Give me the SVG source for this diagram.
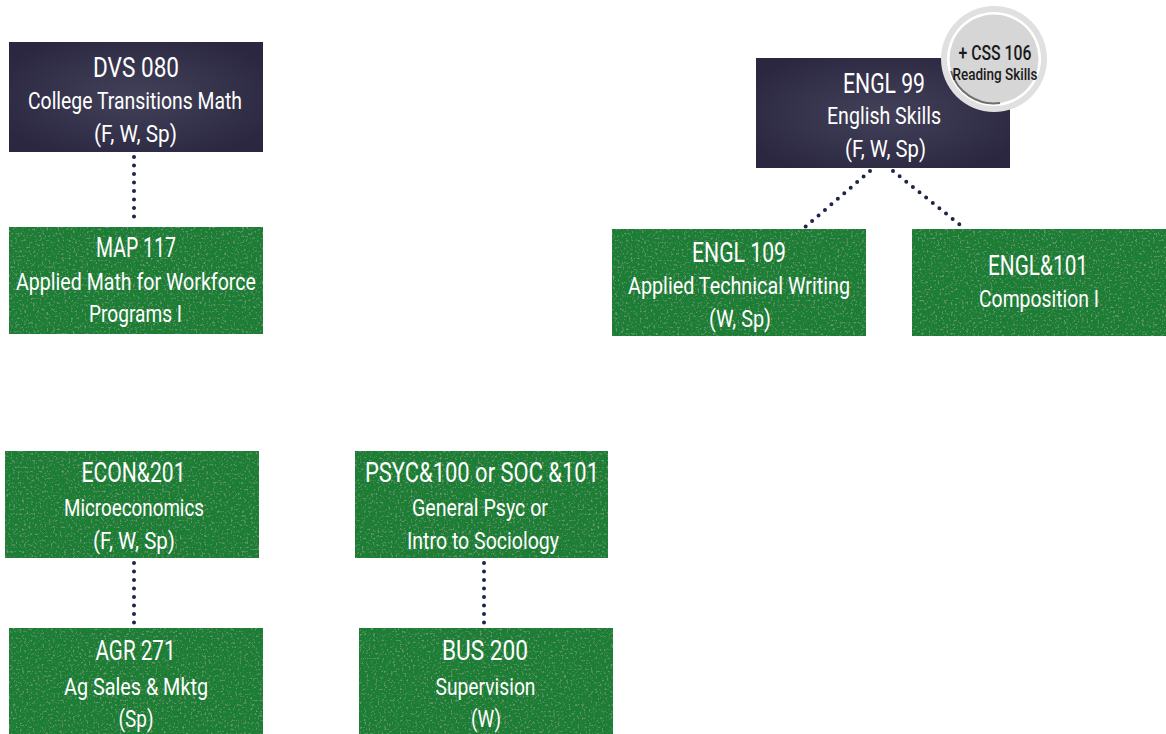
<svg xmlns="http://www.w3.org/2000/svg" width="1166" height="734" viewBox="0 0 1166 734">
<defs>
<style>
.t{font-family:Roboto,"Liberation Sans",sans-serif;fill:#ffffff;text-anchor:middle}
.h{font-size:28px}
.s{font-size:24.5px}
.dark{fill:url(#gDark)}
.green{fill:#1b7d36}
.conn{stroke:#1c2448;stroke-width:4;stroke-linecap:round;stroke-dasharray:0 8.5;fill:none}
.c1{font-family:Roboto,"Liberation Sans",sans-serif;font-weight:500;fill:#1a1a1a;text-anchor:middle}
</style>
<radialGradient id="gDark" cx="50%" cy="50%" r="60%">
<stop offset="0" stop-color="#43415a"/>
<stop offset="1" stop-color="#2b2740"/>
</radialGradient>
<filter id="speck" x="0" y="0" width="1" height="1">
<feTurbulence type="fractalNoise" baseFrequency="0.45" numOctaves="3" seed="7" result="n"/>
<feColorMatrix in="n" type="matrix" values="0 0 0 0 1  0 0 0 0 1  0 0 0 0 1  0 0 0 5 -2.9" result="w"/>
<feComposite in="w" in2="SourceGraphic" operator="in" result="wc"/>
<feComponentTransfer in="wc" result="wd"><feFuncA type="linear" slope="0.13"/></feComponentTransfer>
<feMerge><feMergeNode in="SourceGraphic"/><feMergeNode in="wd"/></feMerge>
</filter>
</defs>
<rect width="1166" height="734" fill="#ffffff"/>

<g id="connectors">
<line class="conn" x1="134" y1="157" x2="134" y2="225"/>
<line class="conn" x1="870" y1="171" x2="804" y2="228"/>
<line class="conn" x1="893" y1="171" x2="964" y2="228"/>
<line class="conn" x1="134" y1="563" x2="134" y2="627"/>
<line class="conn" x1="484" y1="563" x2="484" y2="627"/>
</g>

<g id="dvs080">
<rect class="dark" x="9" y="42" width="254" height="110"/>
<text class="t h" x="136" y="77" textLength="86" lengthAdjust="spacingAndGlyphs">DVS 080</text>
<text class="t s" x="135" y="109" textLength="214" lengthAdjust="spacingAndGlyphs">College Transitions Math</text>
<text class="t s" x="135.5" y="142" textLength="83" lengthAdjust="spacingAndGlyphs">(F, W, Sp)</text>
</g>

<g id="map117">
<rect class="green" filter="url(#speck)" x="9" y="227" width="254" height="107"/>
<text class="t h" x="136" y="257" textLength="80" lengthAdjust="spacingAndGlyphs">MAP 117</text>
<text class="t s" x="136" y="290" textLength="240" lengthAdjust="spacingAndGlyphs">Applied Math for Workforce</text>
<text class="t s" x="135.5" y="322" textLength="93" lengthAdjust="spacingAndGlyphs">Programs I</text>
</g>

<g id="engl99">
<rect class="dark" x="756" y="58" width="254" height="110"/>
<text class="t h" x="884" y="93" textLength="82" lengthAdjust="spacingAndGlyphs">ENGL 99</text>
<text class="t s" x="884" y="124" textLength="114" lengthAdjust="spacingAndGlyphs">English Skills</text>
<text class="t s" x="885.5" y="157" textLength="81" lengthAdjust="spacingAndGlyphs">(F, W, Sp)</text>
</g>

<g id="css106">
<circle cx="994" cy="59" r="53" fill="#e0e0e0"/>
<circle cx="994" cy="59" r="47" fill="#ffffff"/>
<circle cx="994" cy="59" r="44.5" fill="#d6d6d6"/>
<path d="M951,71 A44.5,44.5 0 0 0 1000,103" fill="none" stroke="#6e6e6e" stroke-width="2"/>
<text class="c1" x="995" y="59.5" font-size="21" textLength="73" lengthAdjust="spacingAndGlyphs">+ CSS 106</text>
<text class="c1" x="995" y="80" font-size="16" textLength="85" lengthAdjust="spacingAndGlyphs">Reading Skills</text>
</g>

<g id="engl109">
<rect class="green" filter="url(#speck)" x="612" y="229" width="254" height="107"/>
<text class="t h" x="739" y="262" textLength="94" lengthAdjust="spacingAndGlyphs">ENGL 109</text>
<text class="t s" x="739" y="294" textLength="222" lengthAdjust="spacingAndGlyphs">Applied Technical Writing</text>
<text class="t s" x="740" y="327" textLength="62" lengthAdjust="spacingAndGlyphs">(W, Sp)</text>
</g>

<g id="engl101">
<rect class="green" filter="url(#speck)" x="912" y="229" width="254" height="107"/>
<text class="t h" x="1038" y="275" textLength="100" lengthAdjust="spacingAndGlyphs">ENGL&amp;101</text>
<text class="t s" x="1039" y="307" textLength="120" lengthAdjust="spacingAndGlyphs">Composition I</text>
</g>

<g id="econ201">
<rect class="green" filter="url(#speck)" x="5" y="451" width="254" height="107"/>
<text class="t h" x="133.5" y="482" textLength="104" lengthAdjust="spacingAndGlyphs">ECON&amp;201</text>
<text class="t s" x="134" y="515.5" textLength="140" lengthAdjust="spacingAndGlyphs">Microeconomics</text>
<text class="t s" x="134" y="548.5" textLength="82" lengthAdjust="spacingAndGlyphs">(F, W, Sp)</text>
</g>

<g id="psyc100">
<rect class="green" filter="url(#speck)" x="355" y="451" width="253" height="107"/>
<text class="t h" x="482" y="482" textLength="234" lengthAdjust="spacingAndGlyphs">PSYC&amp;100 or SOC &amp;101</text>
<text class="t s" x="480" y="515.5" textLength="136" lengthAdjust="spacingAndGlyphs">General Psyc or</text>
<text class="t s" x="483" y="548.5" textLength="152" lengthAdjust="spacingAndGlyphs">Intro to Sociology</text>
</g>

<g id="agr271">
<rect class="green" filter="url(#speck)" x="9" y="628" width="254" height="106"/>
<text class="t h" x="135.5" y="660" textLength="80" lengthAdjust="spacingAndGlyphs">AGR 271</text>
<text class="t s" x="136" y="694.5" textLength="144" lengthAdjust="spacingAndGlyphs">Ag Sales &amp; Mktg</text>
<text class="t s" x="136" y="726.5" textLength="35" lengthAdjust="spacingAndGlyphs">(Sp)</text>
</g>

<g id="bus200">
<rect class="green" filter="url(#speck)" x="359" y="628" width="254" height="106"/>
<text class="t h" x="485" y="660" textLength="86" lengthAdjust="spacingAndGlyphs">BUS 200</text>
<text class="t s" x="485.5" y="694.5" textLength="100" lengthAdjust="spacingAndGlyphs">Supervision</text>
<text class="t s" x="486" y="726.5" textLength="30" lengthAdjust="spacingAndGlyphs">(W)</text>
</g>
</svg>
